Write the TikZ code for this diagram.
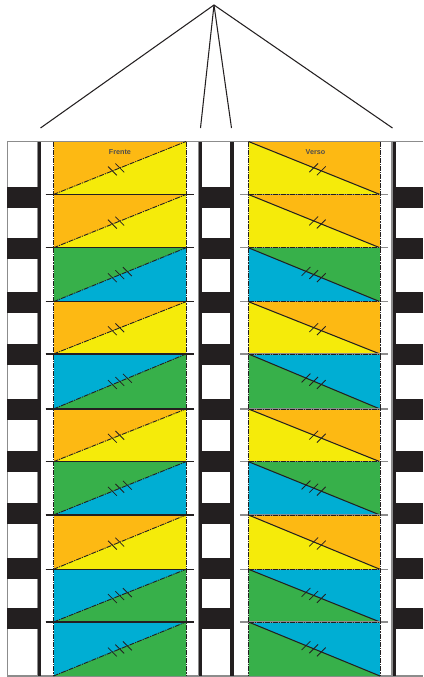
\documentclass[tikz,border=0pt]{standalone}
\usepackage{fontspec}
\setmainfont{Liberation Sans}
\definecolor{cO}{HTML}{FDB913}
\definecolor{cY}{HTML}{F5EB0A}
\definecolor{cG}{HTML}{37B04A}
\definecolor{cB}{HTML}{00AED3}
\definecolor{ink}{HTML}{231F20}
\definecolor{rim}{HTML}{8C8C8C}
\tikzset{
  inkline/.style={draw=ink,line width=1.05pt},
  dashdot/.style={draw=ink,line width=0.9pt,dash pattern=on 5pt off 1pt on 1.2pt off 1pt},
  rimline/.style={draw=rim,line width=1.1pt},
  tick/.style={draw=ink,line width=0.8pt},
  apexline/.style={draw=ink,line width=1.05pt},
  caption/.style={font=\bfseries\fontsize{7.2}{8}\selectfont,text=ink!80,inner sep=0pt}
}
\begin{document}
\begin{tikzpicture}[x=1pt,y=-1pt]
\useasboundingbox (0,0) rectangle (423,677);
\fill[white] (0,0) rectangle (423,677);
% fan of lines
\coordinate (apex) at (214,5);
\coordinate (e1) at (40.5,128);
\coordinate (e2) at (200.5,128);
\coordinate (e3) at (231.5,128);
\coordinate (e4) at (392.5,128);
\foreach \e in {e1,e2,e3,e4} \draw[apexline] (apex) -- (\e);
% film strip frames
\foreach \a in {7.5,37.6,198.8,392}
  \draw[rimline] (\a,141.5) -- (\a,676);
\draw[rimline] (7,141.5) -- (423,141.5);
\draw[rimline] (7,676) -- (423,676);
% vertical bars
\foreach \a/\b in {38/41,199.3/202.3,230/233.7,392.5/395.7}
  \fill[ink] (\a,141.5) rectangle (\b,676);
% perforation bands
\foreach \t/\u in {186.7/207.7,238/259,292/313,344/365,399/420,451/472,503/524,558/579,608/629}{
  \fill[ink] (7,\t) rectangle (41,\u);
  \fill[ink] (199.3,\t) rectangle (233.7,\u);
  \fill[ink] (392.5,\t) rectangle (423,\u);
}
% panels: top/bottom/upper colour/lower colour/ticks
\foreach \t/\u/\up/\lo/\n in {
  141.5/194.5/cO/cY/2,
  194.5/247.8/cO/cY/2,
  247.8/301.7/cG/cB/3,
  301.7/354/cO/cY/2,
  354/409/cB/cG/3,
  409/461.7/cO/cY/2,
  461.7/515/cG/cB/3,
  515/569.3/cO/cY/2,
  569.3/622/cB/cG/3,
  622/676/cB/cG/3}{
  % Frente
  \fill[\up] (53.5,\t) rectangle (186,\u);
  \fill[\lo] (53.5,\u) -- (186,\t) -- (186,\u) -- cycle;
  % Verso
  \fill[\up] (248.5,\t) rectangle (380,\u);
  \fill[\lo] (248.5,\t) -- (380,\u) -- (248.5,\u) -- cycle;
  \draw[dashdot] (53.5,\u) -- (186,\t);
  \draw[inkline] (248.5,\t) -- (380,\u);
  % ticks, placed on the diagonals
  \pgfmathsetmacro{\ya}{\u-(\u-\t)*(112.4-53.5)/132.5}
  \pgfmathsetmacro{\yb}{\u-(\u-\t)*(119.8-53.5)/132.5}
  \pgfmathsetmacro{\yc}{\u-(\u-\t)*(127.4-53.5)/132.5}
  \draw[tick] (108,\ya-4.4) -- (116.8,\ya+4.4);
  \draw[tick] (115.4,\yb-4.4) -- (124.2,\yb+4.4);
  \pgfmathsetmacro{\za}{\t+(\u-\t)*(313.7-248.5)/131.5}
  \pgfmathsetmacro{\zb}{\t+(\u-\t)*(321.3-248.5)/131.5}
  \pgfmathsetmacro{\zc}{\t+(\u-\t)*(306-248.5)/131.5}
  \draw[tick] (309.3,\za+4.4) -- (318.1,\za-4.4);
  \draw[tick] (316.9,\zb+4.4) -- (325.7,\zb-4.4);
  \ifnum\n=3
    \draw[tick] (123,\yc-4.4) -- (131.8,\yc+4.4);
    \draw[tick] (301.6,\zc+4.4) -- (310.4,\zc-4.4);
  \fi
}
% row separators
\foreach \y in {194.5,247.8,301.7,354,409,461.7,515,569.3,622}{
  \draw[rimline] (45.5,\y) -- (194,\y);
  \draw[inkline] (45.5,\y) -- (194,\y);
  \draw[rimline] (240,\y) -- (388,\y);
  \draw[dashdot] (248.5,\y) -- (380,\y);
}
% panel sides
\foreach \x in {53.5,186,248.5,380}
  \draw[dashdot] (\x,141.5) -- (\x,676);
\node[caption] (frente) at (120,152.5) {Frente};
\node[caption] (verso) at (315.5,152.5) {Verso};
\end{tikzpicture}
\end{document}
